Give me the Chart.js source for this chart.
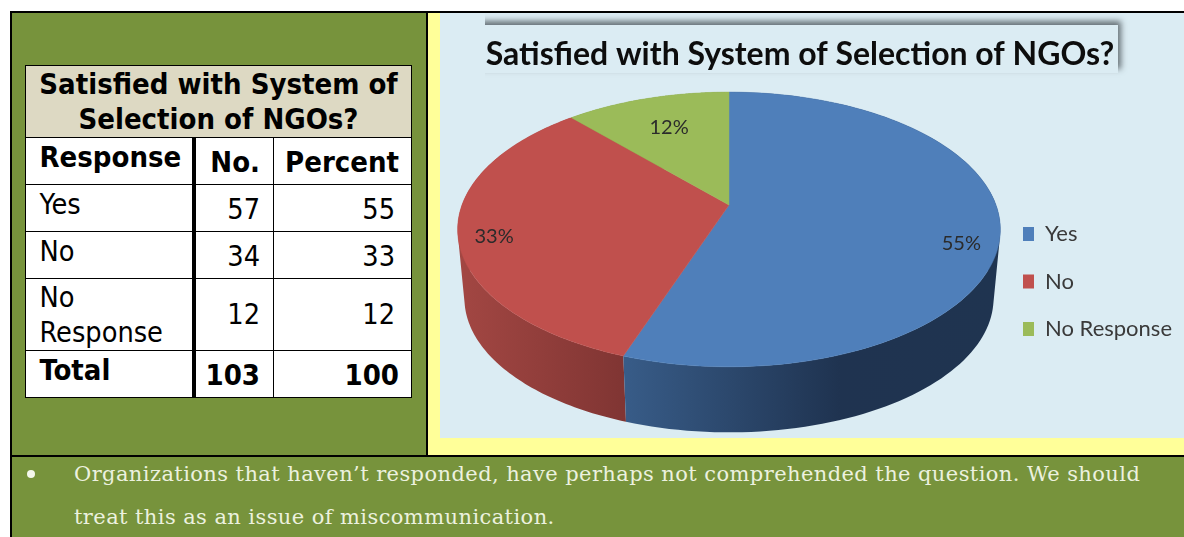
<!DOCTYPE html>
<html><head><meta charset="utf-8">
<script src="https://cdn.jsdelivr.net/npm/chart.js@4"></script>
<style>
html,body{margin:0;padding:0;background:#fff;width:1184px;height:537px;overflow:hidden}
#frame{position:absolute;left:10px;top:11px;width:1174px;height:526px;background:#77933c;border-left:2.5px solid #000;border-top:2.5px solid #000;box-sizing:border-box}
#vline{position:absolute;left:426px;top:12px;width:2px;height:444px;background:#000}
#hline{position:absolute;left:11px;top:454.5px;width:1173px;height:2.5px;background:#000}
#yellow{position:absolute;left:428px;top:13px;width:756px;height:441.5px;background:#ffff99}
#panel{position:absolute;left:440px;top:13px;width:744px;height:425px;background:#dbecf3}
canvas{display:block}
#tbl{position:absolute;left:25px;top:65px;width:386px;border-collapse:collapse;table-layout:fixed;background:#fff;font-family:"DejaVu Sans Condensed","DejaVu Sans";font-stretch:condensed;color:#000;font-size:28.6px}
#tbl td{border:1.5px solid #000;padding:0;overflow:hidden;line-height:35px;box-sizing:border-box}
#tbl .cap{background:#ddd9c3;font-weight:bold;text-align:center;font-size:29px;line-height:35px;padding-top:1px}
#tbl .l{padding-left:13.5px;vertical-align:top;padding-top:2px}
#tbl .l.nr{padding-top:1px}
#tbl .r{text-align:right;padding-right:13px;vertical-align:bottom;padding-bottom:4px}
#tbl .r.n3{padding-right:16px}
#tbl .b{font-weight:bold;font-size:29px}
#tbl .tk{border-right:4.5px solid #000}
.note{position:absolute;left:74px;font-family:"DejaVu Serif";font-size:21px;letter-spacing:.41px;color:#ecf1df;white-space:nowrap;line-height:30px}
#bul{position:absolute;left:27px;top:470px;width:8px;height:8px;border-radius:50%;background:#f4f7ec}
</style></head><body>
<div id="frame"></div><div id="yellow"></div><div id="vline"></div><div id="hline"></div>
<div id="panel"><canvas id="c" width="744" height="425" style="width:744px;height:425px"></canvas></div>
<table id="tbl">
<colgroup><col style="width:168px"><col style="width:80px"><col style="width:138px"></colgroup>
<tr style="height:71px"><td class="cap" colspan="3">Satisfied with System of<br>Selection of NGOs?</td></tr>
<tr style="height:47px"><td class="l b tk">Response</td><td class="r b">No.</td><td class="r b" style="padding-right:12px">Percent</td></tr>
<tr style="height:47px"><td class="l tk">Yes</td><td class="r">57</td><td class="r n3">55</td></tr>
<tr style="height:47px"><td class="l tk">No</td><td class="r">34</td><td class="r n3">33</td></tr>
<tr style="height:71px"><td class="l nr tk">No Response</td><td class="r" style="vertical-align:middle;padding-bottom:0">12</td><td class="r n3" style="vertical-align:middle;padding-bottom:0">12</td></tr>
<tr style="height:47px"><td class="l b tk">Total</td><td class="r b">103</td><td class="r b" style="padding-right:12px">100</td></tr>
</table>
<div id="bul"></div>
<div class="note" style="top:459px">Organizations that haven’t responded, have perhaps not comprehended the question. We should</div>
<div class="note" style="top:502px">treat this as an issue of miscommunication.</div>
<script>
const categories = ["Yes", "No", "No Response"];
const counts = [57, 34, 12];
const sliceColors = ["#4f7fba", "#c0504d", "#9bbb59"];
const titleText = "Satisfied with System of Selection of NGOs?";

const KX = 2.0075, TILT = -0.178, SHRINK = 0.975, DEPTH = 69.6;
const sideStops = [
  [[184, "#385c88"], [400, "#1f3350"], [560, "#1f3450"]],
  [[17, "#a34743"], [184, "#803533"]],
  [[100, "#76903f"], [300, "#76903f"]]
];
const labelFrac = [0.86, 0.87, 0.70];
const labelDy = [19, 8, 0];

function proj(a, theta, f, low) {
  const u = Math.cos(theta) * f, v = Math.sin(theta) * f, d = 1 + TILT * v;
  const r = a.outerRadius;
  let x = KX * r * u / d, y = r * v / d;
  if (low) { x *= SHRINK; y = y * SHRINK + DEPTH; }
  return [a.x + x, a.y + y];
}
function arcPath(ctx, a) {
  const n = 120;
  for (let i = 0; i <= n; i++) {
    const p = proj(a, a.startAngle + (a.endAngle - a.startAngle) * i / n, 1, false);
    ctx.lineTo(p[0], p[1]);
  }
}
function sidePath(ctx, a) {
  const n = 120;
  for (let i = 0; i < n; i++) {
    const t0 = a.startAngle + (a.endAngle - a.startAngle) * i / n;
    const t1 = a.startAngle + (a.endAngle - a.startAngle) * (i + 1) / n;
    const p = [proj(a, t0, 1, false), proj(a, t1, 1, false), proj(a, t1, 1, true), proj(a, t0, 1, true)];
    ctx.moveTo(p[0][0], p[0][1]);
    const area = (p[1][0] - p[0][0]) * (p[2][1] - p[0][1]) - (p[1][1] - p[0][1]) * (p[2][0] - p[0][0]);
    (area > 0 ? [1, 2, 3] : [3, 2, 1]).forEach(k => ctx.lineTo(p[k][0], p[k][1]));
    ctx.closePath();
  }
}
const pie3d = {
  id: "pie3d",
  afterLayout(chart) {
    const ca = chart.chartArea;
    ca.left = 0; ca.right = 578; ca.top = 59; ca.bottom = 325;
    ca.width = 578; ca.height = 266;
    const t = chart.titleBlock;
    t.left = 0; t.right = 720; t.top += 2; t.bottom += 2;
    const l = chart.legend;
    const pad = l.options.labels.padding;
    l.left = 583 - pad; l.right = 744; l.top = 210 - pad;
  },
  beforeDraw(chart) {
    const ctx = chart.ctx;
    ctx.save();
    ctx.beginPath();
    ctx.rect(45, 0, 660, 70);
    ctx.clip();
    ctx.shadowColor = "rgba(90,100,105,0.9)";
    ctx.shadowBlur = 6;
    ctx.shadowOffsetX = 3; ctx.shadowOffsetY = -4;
    ctx.fillStyle = "#dbecf3";
    ctx.fillRect(30, 12, 648, 48);
    ctx.restore();
  },
  beforeDatasetDraw() { return false; },
  afterDatasetsDraw(chart) {
    const ctx = chart.ctx, meta = chart.getDatasetMeta(0), arcs = meta.data;
    const colors = chart.data.datasets[0].backgroundColor;
    ctx.save();
    [2, 1, 0].forEach(i => {
      const a = arcs[i], g = ctx.createLinearGradient(a.x - 289, 0, a.x - 289 + 744, 0);
      sideStops[i].forEach(s => g.addColorStop(s[0] / 744, s[1]));
      ctx.fillStyle = g;
      ctx.beginPath();
      sidePath(ctx, a);
      ctx.fill();
    });
    arcs.forEach((a, i) => {
      ctx.fillStyle = colors[i];
      ctx.strokeStyle = colors[i];
      ctx.lineWidth = 0.5;
      ctx.beginPath();
      ctx.moveTo(a.x, a.y);
      arcPath(ctx, a);
      ctx.closePath();
      ctx.fill();
      ctx.stroke();
    });
    const total = counts.reduce((s, v) => s + v, 0);
    ctx.font = "20px Lato";
    ctx.fillStyle = "#2b2b2b";
    ctx.textAlign = "center";
    ctx.textBaseline = "middle";
    arcs.forEach((a, i) => {
      const p = proj(a, (a.startAngle + a.endAngle) / 2, labelFrac[i], false);
      ctx.fillText(Math.round(counts[i] / total * 100) + "%", p[0], p[1] + labelDy[i]);
    });
    ctx.restore();
  }
};
new Chart(document.getElementById("c"), {
  type: "pie",
  data: { labels: categories, datasets: [{ data: counts, backgroundColor: sliceColors, borderWidth: 0 }] },
  plugins: [pie3d],
  options: {
    responsive: false, animation: false,
    radius: 133,
    plugins: {
      tooltip: { enabled: false },
      title: { display: true, text: titleText, color: "#0d0d0d", font: { family: "Lato", size: 32, weight: "bold" }, padding: { top: 20, bottom: 10 } },
      legend: { position: "right", align: "start",
        labels: { boxWidth: 11, boxHeight: 14, padding: 25.5, color: "#3a3a3a", font: { family: "Lato", size: 22 } } }
    }
  }
});
</script>
</body></html>
